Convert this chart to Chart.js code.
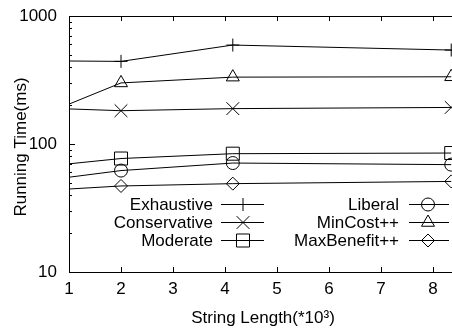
<!DOCTYPE html>
<html>
<head>
<meta charset="utf-8">
<script src="https://cdn.jsdelivr.net/npm/chart.js@4/dist/chart.umd.min.js"></script>
<style>
  html, body { margin: 0; padding: 0; background: #fff; }
  #wrap { width: 452px; height: 329px; }
</style>
</head>
<body>
<div id="wrap"><canvas id="myChart"></canvas></div>
<script>
// string length (*10^3)
const lengths = [1, 2, 4.15, 8.35];
const exhaustive = [445, 442, 593, 542];
const conservative = [188, 182, 189, 193];
const moderate = [70, 77, 84, 85];
const liberal = [55, 62, 71, 69];
const minCost = [205, 300, 333, 335];
const maxBenefit = [44.5, 47, 49, 51];

const xTicks = [1, 2, 3, 4, 5, 6, 7, 8];
const yTicks = [10, 100, 1000];
const yMinorTicks = [20, 30, 40, 50, 60, 70, 80, 90, 200, 300, 400, 500, 600, 700, 800, 900];

const FONT = "'Liberation Sans', Arial, sans-serif";

function series(label, values, style, radius) {
	return {
		label: label,
		data: values.map((v, i) => ({ x: lengths[i], y: v })),
		borderColor: '#000000',
		borderWidth: 1,
		backgroundColor: 'transparent',
		lineTension: 0,
		pointStyle: style,
		pointRadius: (c) => c.dataIndex === 0 ? 0 : radius,
		pointHoverRadius: radius,
		pointBorderColor: '#000000',
		pointBackgroundColor: 'rgba(0,0,0,0)',
		pointBorderWidth: 1,
		_legendRadius: radius,
	};
}

const datasets = [
	series('Exhaustive', exhaustive, 'cross', 6.5),
	series('Conservative', conservative, 'crossRot', 9),
	series('Moderate', moderate, 'rect', 9.2),
	series('Liberal', liberal, 'circle', 6.5),
	series('MinCost++', minCost, 'triangle', 7.5),
	series('MaxBenefit++', maxBenefit, 'rectRot', 6.5),
];

// gnuplot-like frame: top border, inward ticks, axis titles, legend
const framePlugin = {
	id: 'frame',
	afterDraw(chart) {
		const ctx = chart.ctx;
		const a = chart.chartArea;
		const xs = chart.scales.x;
		const ys = chart.scales.y;
		ctx.save();
		ctx.strokeStyle = '#000';
		ctx.lineWidth = 1;
		ctx.beginPath();
		ctx.moveTo(a.left, Math.round(a.top) + 0.5);
		ctx.lineTo(a.right, Math.round(a.top) + 0.5);
		xTicks.forEach(v => {
			const px = Math.round(xs.getPixelForValue(v)) + 0.5;
			ctx.moveTo(px, a.bottom);
			ctx.lineTo(px, a.bottom - 5);
			ctx.moveTo(px, a.top);
			ctx.lineTo(px, a.top + 5);
		});
		yTicks.forEach(v => {
			const py = Math.round(ys.getPixelForValue(v)) + 0.5;
			ctx.moveTo(a.left, py);
			ctx.lineTo(a.left + 6, py);
		});
		yMinorTicks.forEach(v => {
			const py = Math.round(ys.getPixelForValue(v)) + 0.5;
			ctx.moveTo(a.left, py);
			ctx.lineTo(a.left + 3, py);
		});
		ctx.stroke();

		ctx.fillStyle = '#000';
		ctx.font = '17px ' + FONT;
		ctx.textAlign = 'center';
		ctx.textBaseline = 'alphabetic';
		ctx.fillText('String Length(*10\u00B3)', 263, 323);
		ctx.save();
		ctx.translate(26, 147);
		ctx.rotate(-Math.PI / 2);
		ctx.fillText('Running Time(ms)', 0, 0);
		ctx.restore();

		// legend, two columns
		const cols = [
			{ textRight: 213, lineFrom: 221, lineTo: 264, mark: 243 },
			{ textRight: 399, lineFrom: 409, lineTo: 449, mark: 428 },
		];
		const rows = [204, 222, 240];
		chart.data.datasets.forEach((ds, i) => {
			const c = cols[Math.floor(i / 3)];
			const y = rows[i % 3];
			ctx.textAlign = 'right';
			ctx.textBaseline = 'middle';
			ctx.fillText(ds.label, c.textRight, y + 1);
			ctx.beginPath();
			ctx.moveTo(c.lineFrom, y + 0.5);
			ctx.lineTo(c.lineTo, y + 0.5);
			ctx.stroke();
			ctx.fillStyle = 'rgba(0,0,0,0)';
			Chart.helpers.drawPoint(ctx, {
				pointStyle: ds.pointStyle,
				radius: ds._legendRadius,
				rotation: 0,
				borderWidth: 1,
			}, c.mark, y + 0.5);
			ctx.fillStyle = '#000';
		});
		ctx.restore();
	}
};

new Chart(document.getElementById('myChart'), {
	type: 'line',
	data: { datasets: datasets },
	options: {
		responsive: true,
		maintainAspectRatio: false,
		animation: false,
		events: [],
		layout: {
			autoPadding: false,
			padding: { left: 0, top: 16, right: 0, bottom: 0 }
		},
		plugins: {
			legend: { display: false },
			title: { display: false },
			tooltip: { enabled: false },
		},
		scales: {
			x: {
				type: 'linear',
				min: 1,
				max: 8.365,
				afterBuildTicks: (s) => { s.ticks = xTicks.map(v => ({ value: v })); },
				afterFit: (s) => { s.height = 57; s.paddingLeft = 0; s.paddingRight = 0; },
				grid: { display: false, drawTicks: false },
				border: { display: true, color: '#000000', width: 1 },
				ticks: {
					color: '#000000',
					padding: 7,
					maxRotation: 0,
					autoSkip: false,
					callback: (v) => String(v),
					font: { family: FONT, size: 17 },
				},
			},
			y: {
				type: 'logarithmic',
				min: 10,
				max: 1000,
				afterBuildTicks: (s) => { s.ticks = yTicks.map(v => ({ value: v })); },
				afterFit: (s) => { s.width = 69; s.paddingTop = 0; s.paddingBottom = 0; },
				grid: { display: false, drawTicks: false },
				border: { display: true, color: '#000000', width: 1 },
				ticks: {
					color: '#000000',
					padding: 12,
					callback: (v) => String(v),
					font: { family: FONT, size: 17 },
				},
			}
		}
	},
	plugins: [framePlugin]
});
</script>
</body>
</html>
